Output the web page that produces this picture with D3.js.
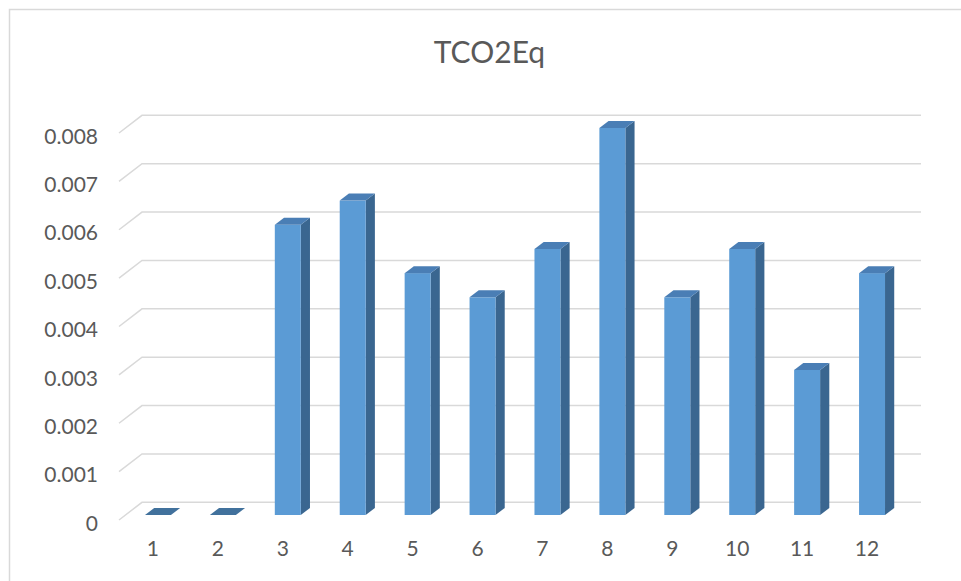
<!DOCTYPE html>
<html>
<head>
<meta charset="utf-8">
<script src="https://cdn.jsdelivr.net/npm/d3@7"></script>
<style>
  html, body { margin: 0; padding: 0; background: #ffffff; }
  svg { display: block; }
  text { font-family: Lato, "Open Sans", sans-serif; fill: #595959; }
</style>
</head>
<body>
<svg id="chart" width="961" height="581"></svg>
<script>
// Monthly values
const categories = ["1", "2", "3", "4", "5", "6", "7", "8", "9", "10", "11", "12"];
const values = [0, 0, 0.006, 0.0065, 0.005, 0.0045, 0.0055, 0.008, 0.0045, 0.0055, 0.003, 0.005];
const yTicks = [0, 0.001, 0.002, 0.003, 0.004, 0.005, 0.006, 0.007, 0.008];
const title = "TCO2Eq";

const svg = d3.select("#chart");

// Chart frame
svg.append("rect")
  .attr("x", 9.5).attr("y", 9.5)
  .attr("width", 1000).attr("height", 1000)
  .attr("fill", "none").attr("stroke", "#d9d9d9").attr("stroke-width", 1.5);

// Front floor edge plane; the back wall sits behind it by (depthX, depthY)
const frontLeft = 119, frontRight = 898;
const depthX = 23, depthY = -17.7;

const x = d3.scaleBand().domain(categories).range([frontLeft, frontRight]).paddingInner(0).paddingOuter(0);
const y = d3.scaleLinear().domain([0, 0.008]).range([520, 133]);

// Gridlines: short diagonal on the side wall, then across the back wall
const grid = svg.append("g");
yTicks.forEach(t => {
  const yf = y(t);
  grid.append("polyline")
    .attr("points", [[frontLeft, yf], [frontLeft + depthX, yf + depthY], [frontRight + depthX, yf + depthY]].map(p => p.join(",")).join(" "))
    .attr("fill", "none")
    .attr("stroke", "#d9d9d9")
    .attr("stroke-width", 1.5);
});

// Bars: front face, top and right side
const barW = x.bandwidth() / 2.5;
const offX = 6.5, offY = -5;      // bar front plane relative to floor front edge
const bdx = 9.2, bdy = -7;        // bar depth

const bars = svg.append("g");
categories.forEach((c, i) => {
  const v = values[i];
  const x0 = x(c) + x.bandwidth() / 2 - barW / 2 + offX;
  const x1 = x0 + barW;
  const yb = y(0) + offY;
  const yt = y(v) + offY;
  const g = bars.append("g");
  if (v > 0) {
    g.append("polygon")
      .attr("points", [[x1, yt], [x1 + bdx, yt + bdy], [x1 + bdx, yb + bdy], [x1, yb]].map(p => p.join(",")).join(" "))
      .attr("fill", "#3a6690");
    g.append("rect")
      .attr("x", x0).attr("y", yt)
      .attr("width", barW).attr("height", yb - yt)
      .attr("fill", "#5b9bd5");
  }
  g.append("polygon")
    .attr("points", [[x0, yt], [x0 + bdx, yt + bdy], [x1 + bdx, yt + bdy], [x1, yt]].map(p => p.join(",")).join(" "))
    .attr("fill", v > 0 ? "#4a7eb5" : "#41719c");
});

// Value axis labels
const yAxis = d3.axisLeft(y).tickValues(yTicks).tickSize(0).tickPadding(0)
  .tickFormat(d => d === 0 ? "0" : d3.format(".3f")(d));
const ya = svg.append("g").attr("transform", "translate(98,3.5)").call(yAxis);
ya.select(".domain").remove();
ya.selectAll("text").style("font-size", "21px").style("font-family", "Lato, sans-serif").attr("fill", "#595959");

// Category axis labels
const xAxis = d3.axisBottom(x).tickSize(0).tickPadding(0);
const xa = svg.append("g").attr("transform", "translate(1.5,541)").call(xAxis);
xa.select(".domain").remove();
xa.selectAll("text").style("font-size", "21px").style("font-family", "Lato, sans-serif").attr("fill", "#595959");

// Title
svg.append("text")
  .attr("x", 489.5).attr("y", 63)
  .attr("text-anchor", "middle")
  .style("font-size", "30px")
  .text(title);
</script>
</body>
</html>
